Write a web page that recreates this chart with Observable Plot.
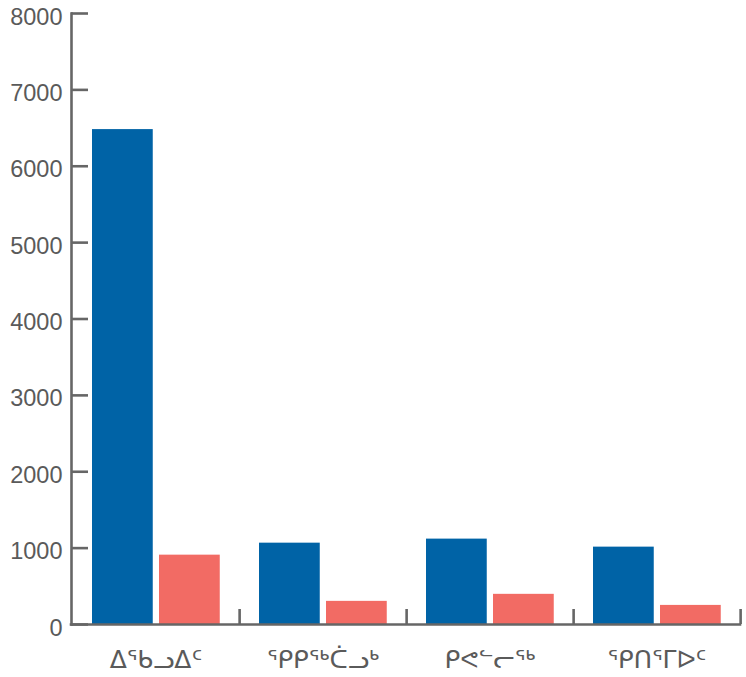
<!DOCTYPE html>
<html>
<head>
<meta charset="utf-8">
<script src="https://cdn.jsdelivr.net/npm/d3@7"></script>
<script src="https://cdn.jsdelivr.net/npm/@observablehq/plot@0.6"></script>
<style>
  html, body { margin: 0; padding: 0; background: #fff; }
  #chart svg { display: block; }
</style>
</head>
<body>
<div id="chart"></div>
<script>
// Data
const regions = ["ᐃᖃᓗᐃᑦ", "ᕿᑭᖅᑖᓗᒃ", "ᑭᕙᓪᓕᖅ", "ᕿᑎᕐᒥᐅᑦ"];
const seriesBlue = [6480, 1065, 1118, 1013];
const seriesRed = [908, 303, 395, 250];
const yTicks = [0, 1000, 2000, 3000, 4000, 5000, 6000, 7000, 8000];

const blueData = regions.map((r, i) => ({region: r, value: seriesBlue[i]}));
const redData = regions.map((r, i) => ({region: r, value: seriesRed[i]}));

const W = 746, H = 677;
const mL = 71, mR = 6, mT = 13, mB = 53;
const plotW = W - mL - mR;
const plotH = H - mT - mB;
const band = plotW / regions.length;
const axisColor = "#666666";
const textColor = "#5a5a5a";

const chart = Plot.plot({
  width: W,
  height: H,
  marginLeft: mL,
  marginRight: mR,
  marginTop: mT,
  marginBottom: mB,
  style: {background: "#fff", fontFamily: "'Liberation Sans', Arial, sans-serif"},
  x: {domain: regions, padding: 0, axis: null, label: null},
  y: {domain: [0, 8000], axis: null, label: null},
  marks: [
    Plot.barY(blueData, {x: "region", y: "value", fill: "#0063a6",
      insetLeft: 20, insetRight: band - 81}),
    Plot.barY(redData, {x: "region", y: "value", fill: "#f26b64",
      insetLeft: 87, insetRight: band - 148}),
    // y-axis ticks pointing inward
    Plot.ruleY(yTicks, {y: d => d, stroke: axisColor, strokeWidth: 2.6,
      insetRight: plotW - 17}),
    // boundary ticks between categories
    Plot.ruleX(regions, {x: d => d, dx: band / 2, stroke: axisColor, strokeWidth: 2.6,
      insetTop: plotH - 15}),
    Plot.frame({anchor: "left", stroke: axisColor, strokeWidth: 2.6, strokeLinecap: "square"}),
    Plot.ruleY([0], {stroke: axisColor, strokeWidth: 2.6, strokeLinecap: "square"}),
    Plot.axisY({ticks: yTicks, tickSize: 0, tickPadding: 9, tickFormat: d => String(d),
      fontSize: 23.5, dy: 3.5, color: textColor, label: null}),
    Plot.axisX({tickSize: 0, tickPadding: 26, fontSize: 25, color: textColor, label: null,
      fontFamily: "'DejaVu Sans', sans-serif"})
  ]
});

document.getElementById("chart").appendChild(chart);
</script>
</body>
</html>
